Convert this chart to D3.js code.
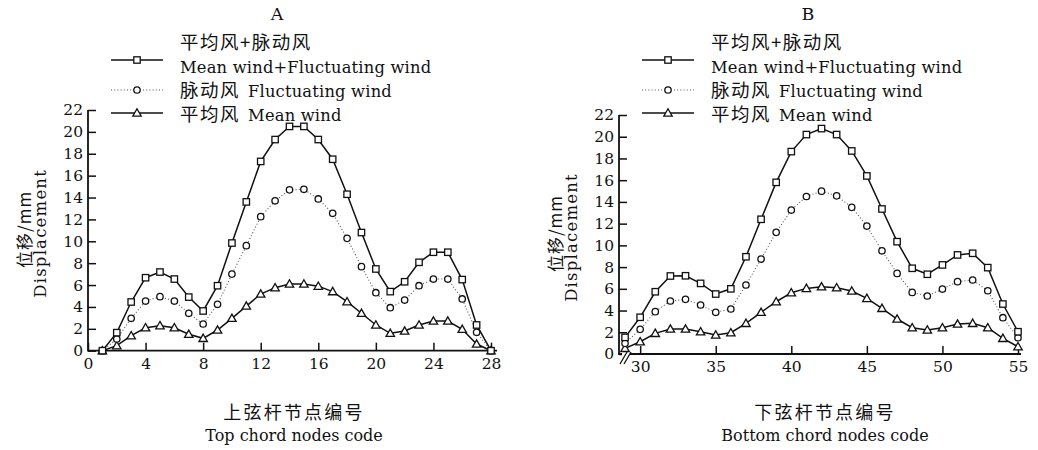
<!DOCTYPE html>
<html>
<head>
<meta charset="utf-8">
<script src="https://cdn.jsdelivr.net/npm/d3@7"></script>
<style>
body { margin: 0; background: #fff; }
svg { display: block; }
text { fill: #111; }
</style>
</head>
<body>
<div id="vis"></div>
<script>

// node codes
let nodesTop = [1,2,3,4,5,6,7,8,9,10,11,12,13,14,15,16,17,18,19,20,21,22,23,24,25,26,27,28]
let nodesBottom = [29,30,31,32,33,34,35,36,37,38,39,40,41,42,43,44,45,46,47,48,49,50,51,52,53,54,55]

// displacement (mm), top chord
let topCombined = [0,1.65,4.45,6.67,7.19,6.55,4.9,3.63,5.94,9.84,13.6,17.3,19.3,20.5,20.5,19.3,17.5,14.3,10.8,7.47,5.4,6.3,8.08,9.0,9.0,6.5,2.35,0]
let topFluct = [0,1.07,2.96,4.54,4.94,4.54,3.42,2.44,4.24,7.0,9.6,12.25,13.7,14.7,14.75,13.87,12.56,10.27,7.68,5.3,3.93,4.63,5.94,6.55,6.55,4.73,1.68,0]
let topMean = [0,0.46,1.37,2.1,2.29,2.1,1.5,1.13,1.89,2.96,4.08,5.18,5.76,6.1,6.1,5.9,5.4,4.48,3.42,2.35,1.59,1.8,2.35,2.71,2.71,1.96,0.61,0]

// displacement (mm), bottom chord
let bottomCombined = [1.53,3.38,5.73,7.18,7.2,6.5,5.52,6.0,8.95,12.4,15.8,18.63,20.2,20.75,20.2,18.69,16.39,13.35,10.34,7.89,7.34,8.2,9.12,9.27,7.95,4.6,2.05]
let bottomFluct = [0.98,2.27,3.9,4.88,5.03,4.51,3.84,4.14,6.35,8.74,11.2,13.25,14.5,14.99,14.56,13.5,11.78,9.5,7.42,5.67,5.34,5.98,6.66,6.81,5.82,3.34,1.5]
let bottomMean = [0.52,1.13,1.9,2.3,2.3,2.05,1.75,1.96,2.82,3.84,4.81,5.64,6.04,6.19,6.1,5.8,5.12,4.2,3.22,2.42,2.21,2.42,2.76,2.82,2.42,1.44,0.67]

let yTicks = [0,2,4,6,8,10,12,14,16,18,20,22]
let topTicks = [0,4,8,12,16,20,24,28]
let bottomTicks = [30,35,40,45,50,55]

let seriesNames = [
    {cn: "平均风+脉动风", en: "Mean wind+Fluctuating wind", marker: "square", dotted: false},
    {cn: "脉动风", en: "Fluctuating wind", marker: "circle", dotted: true},
    {cn: "平均风", en: "Mean wind", marker: "triangle", dotted: false}
]

let panels = [
    {
        title: "A", nodes: nodesTop, series: [topCombined, topFluct, topMean],
        xDomain: [0, 28], xRange: [88, 491], yRange: [350.7, 110.0], xTicks: topTicks,
        xEnd: 497, cnTitle: "上弦杆节点编号", enTitle: "Top chord nodes code", brk: false
    },
    {
        title: "B", nodes: nodesBottom, series: [bottomCombined, bottomFluct, bottomMean],
        xDomain: [28.6, 55], xRange: [619, 1018], yRange: [354, 115], xTicks: bottomTicks,
        xEnd: 1021, cnTitle: "下弦杆节点编号", enTitle: "Bottom chord nodes code", brk: true
    }
]

const SERIF = "'DejaVu Serif', 'Liberation Serif', serif"
const CJK = "'Noto Sans CJK SC', sans-serif"

let svg = d3.select("#vis").append("svg")
    .attr("width", 1038)
    .attr("height", 450)

function drawMarker(g, type, x, y) {
    if (type == "square") {
        g.append("rect")
            .attr("x", x - 3.2).attr("y", y - 3.2)
            .attr("width", 6.4).attr("height", 6.4)
            .attr("fill", "white").attr("stroke", "#111").attr("stroke-width", 1.3)
    } else if (type == "circle") {
        g.append("circle")
            .attr("cx", x).attr("cy", y).attr("r", 3.2)
            .attr("fill", "white").attr("stroke", "#111").attr("stroke-width", 1.3)
    } else {
        let s = 4.2
        g.append("path")
            .attr("d", `M${x},${y - s}L${x + s},${y + s * 0.75}L${x - s},${y + s * 0.75}Z`)
            .attr("fill", "white").attr("stroke", "#111").attr("stroke-width", 1.3)
    }
}

panels.forEach(p => {
    let x = d3.scaleLinear().domain(p.xDomain).range(p.xRange)
    let y = d3.scaleLinear().domain([0, 22]).range(p.yRange)
    let x0 = p.xRange[0]
    let y0 = p.yRange[0]

    let g = svg.append("g")

    // axes
    let yAxis = g.append("g")
        .attr("transform", `translate(${x0},0)`)
        .call(d3.axisLeft(y).tickValues(yTicks).tickSizeInner(-8).tickSizeOuter(0).tickPadding(5))
    yAxis.select(".domain").remove()
    yAxis.selectAll(".tick line").attr("stroke", "#111").attr("stroke-width", 1.5)
    yAxis.selectAll("text").attr("font-family", SERIF).attr("font-size", 15.5).attr("fill", "#111")

    let xAxis = g.append("g")
        .attr("transform", `translate(0,${y0})`)
        .call(d3.axisBottom(x).tickValues(p.xTicks).tickSizeInner(-8).tickSizeOuter(0).tickPadding(7))
    xAxis.select(".domain").remove()
    xAxis.selectAll(".tick line").attr("stroke", "#111").attr("stroke-width", 1.5)
    xAxis.selectAll("text").attr("font-family", SERIF).attr("font-size", 15.5).attr("fill", "#111")

    g.append("path")
        .attr("d", `M${x0},${p.yRange[1]}V${y0}H${p.xEnd}`)
        .attr("fill", "none").attr("stroke", "#111").attr("stroke-width", 1.8)

    if (p.brk) {
        // axis break mark
        g.append("rect").attr("x", x0 + 3).attr("y", y0 - 2).attr("width", 8).attr("height", 4).attr("fill", "white")
        g.append("path")
            .attr("d", `M${x0 + 1},${y0 + 10}L${x0 + 8},${y0 - 2}M${x0 + 5},${y0 + 10}L${x0 + 12},${y0 - 2}`)
            .attr("stroke", "#111").attr("stroke-width", 1.3).attr("fill", "none")
    }

    // series
    let line = d3.line().x((d, i) => x(p.nodes[i])).y(d => y(d))
    let order = [2, 1, 0]
    order.forEach(si => {
        let s = seriesNames[si]
        g.append("path")
            .datum(p.series[si])
            .attr("d", line)
            .attr("fill", "none")
            .attr("stroke", s.dotted ? "#555" : "#111")
            .attr("stroke-width", s.dotted ? 1.1 : 1.5)
            .attr("stroke-dasharray", s.dotted ? "1,2.2" : null)
    })
    order.forEach(si => {
        let s = seriesNames[si]
        let mg = g.append("g")
        p.series[si].forEach((v, i) => drawMarker(mg, s.marker, x(p.nodes[i]), y(v)))
    })

    // titles
    let cx = x0 + 189
    g.append("text")
        .attr("x", cx).attr("y", 20)
        .attr("text-anchor", "middle")
        .attr("font-family", SERIF).attr("font-size", 17.5)
        .text(p.title)

    let xc = x0 + 206
    g.append("text")
        .attr("x", xc).attr("y", 419)
        .attr("text-anchor", "middle")
        .attr("font-family", CJK).attr("font-size", 18)
        .attr("letter-spacing", 2.2)
        .text(p.cnTitle)
    g.append("text")
        .attr("x", xc).attr("y", 441)
        .attr("text-anchor", "middle")
        .attr("font-family", SERIF).attr("font-size", 16)
        .text(p.enTitle)

    let yc = (p.yRange[0] + p.yRange[1]) / 2 + 3
    g.append("text")
        .attr("transform", `translate(${x0 - 57},${yc - 4}) rotate(-90)`)
        .attr("text-anchor", "middle")
        .attr("font-family", CJK).attr("font-size", 17)
        .attr("letter-spacing", 1)
        .text("位移/mm")
    g.append("text")
        .attr("transform", `translate(${x0 - 42},${yc}) rotate(-90)`)
        .attr("text-anchor", "middle")
        .attr("font-family", SERIF).attr("font-size", 16.5)
        .attr("letter-spacing", 1.2)
        .text("Displacement")

    // legend
    let lx = x0 + 23
    let tx = x0 + 92
    let rows = [
        {line: 60, cn: 49, en: 73},
        {line: 90, en: 97},
        {line: 113, en: 121}
    ]
    seriesNames.forEach((s, i) => {
        let r = rows[i]
        g.append("line")
            .attr("x1", lx).attr("x2", lx + 52)
            .attr("y1", r.line).attr("y2", r.line)
            .attr("stroke", s.dotted ? "#555" : "#111")
            .attr("stroke-width", s.dotted ? 1.1 : 1.5)
            .attr("stroke-dasharray", s.dotted ? "1,2.2" : null)
        drawMarker(g, s.marker, lx + 26, r.line)
        if (i == 0) {
            g.append("text")
                .attr("x", tx).attr("y", r.cn)
                .attr("font-family", CJK).attr("font-size", 18.5)
                .attr("letter-spacing", 1.5)
                .text(s.cn)
            g.append("text")
                .attr("x", tx).attr("y", r.en)
                .attr("font-family", SERIF).attr("font-size", 16.3)
                .attr("letter-spacing", 0.2)
                .text(s.en)
        } else {
            let t = g.append("text")
                .attr("x", tx).attr("y", r.en)
            t.append("tspan")
                .attr("font-family", CJK).attr("font-size", 18.5)
                .attr("letter-spacing", 1.5)
                .text(s.cn)
            t.append("tspan")
                .attr("dx", 8)
                .attr("font-family", SERIF).attr("font-size", 16.3)
                .attr("letter-spacing", 0.2)
                .text(s.en)
        }
    })
})

</script>
</body>
</html>
